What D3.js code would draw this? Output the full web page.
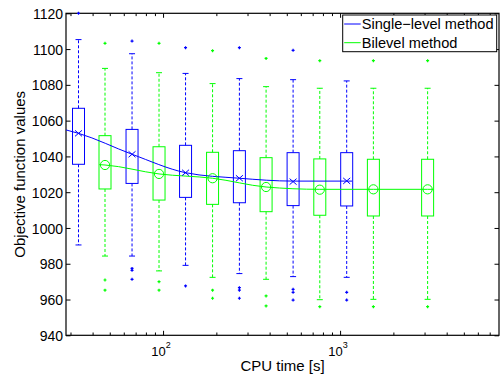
<!DOCTYPE html>
<html>
<head>
<meta charset="utf-8">
<script src="https://cdn.jsdelivr.net/npm/d3@7"></script>
<style>
body { margin: 0; background: #fff; }
text { font-family: "Liberation Sans", Arial, Helvetica, sans-serif; fill: #000; }
</style>
</head>
<body>
<div id="chart"></div>
<script>
// box positions on the CPU time axis [s]
const blueTime = [33.3, 66.8, 134, 269.9, 542.7, 1089.7];
const greenTime = [47, 94.9, 190.4, 381.9, 768, 1542, 3122];

// single-level method boxes
const blueQ1 = [1035.6, 1024.9, 1017.1, 1014.1, 1012.5, 1012.3];
const blueQ3 = [1066.9, 1055.1, 1046.2, 1043.2, 1042.1, 1042.1];
const blueMark = [1052.9, 1041.2, 1030.9, 1027.8, 1025.9, 1026.3];
const blueHi = [1105.3, 1097.4, 1086.4, 1083.5, 1082.9, 1082.2];
const blueLo = [990.5, 984.3, 979.1, 974.5, 972.8, 972.4];
const blueOut = [
  [1120],
  [1104.5, 977.4, 976.3, 971.3],
  [1100.8, 967.6],
  [1100.8, 966.6, 965.2, 960.7],
  [1099.3, 965.7, 964.0, 959.7],
  [964.0, 959.7]
];

// bilevel method boxes
const greenQ1 = [1021.8, 1015.6, 1013.2, 1009.1, 1007.1, 1006.7, 1006.7];
const greenQ3 = [1051.6, 1045.4, 1042.3, 1039.3, 1038.6, 1038.4, 1038.4];
const greenMark = [1035.2, 1030.2, 1027.8, 1022.9, 1021.4, 1021.6, 1021.6];
const greenHi = [1089.2, 1086.8, 1080.7, 1079.0, 1078.1, 1078.1, 1078.1];
const greenLo = [984.3, 976.0, 972.4, 971.3, 959.9, 960.1, 960.1];
const greenOut = [
  [1103.2, 970.9, 965.2],
  [1103.2, 970.0, 965.2],
  [1099.1, 965.2, 960.7],
  [1094.8, 962.0, 956.4],
  [1093.5, 956.0],
  [1093.5, 956.0],
  [1093.5, 956.0]
];

// trend curves
const blueLineT = [28.3, 33.3, 66.8, 134, 269.9, 542.7, 1089.7, 1169];
const blueLineV = [1054.8, 1052.9, 1041.2, 1030.9, 1027.8, 1026.2, 1026.2, 1026.2];
const greenLineT = [43.6, 47, 94.9, 190.4, 381.9, 768, 1542, 3122, 3365];
const greenLineV = [1035.4, 1035.2, 1030.2, 1027.8, 1022.9, 1021.6, 1021.6, 1021.6, 1021.6];

const yTicks = [940, 960, 980, 1000, 1020, 1040, 1060, 1080, 1100, 1120];
const xMajor = [100, 1000];
const xMinor = [30, 40, 50, 60, 70, 80, 90, 200, 300, 400, 500, 600, 700, 800, 900,
  2000, 3000, 4000, 5000, 6000, 7000];
const legendLabels = ["Single\u2212level method", "Bilevel method"];

const BLUE = "#0000ff", GREEN = "#00ff00";

const margin = {top: 13.3, right: 4, bottom: 45.7, left: 66},
    width = 503 - margin.left - margin.right,
    height = 381 - margin.top - margin.bottom;

const svg = d3.select("#chart").append("svg")
  .attr("width", 503)
  .attr("height", 381)
  .append("g")
  .attr("transform", "translate(" + margin.left + "," + margin.top + ")");

const x = d3.scaleLog().domain([28.3, 7900]).range([0, width]);
const y = d3.scaleLinear().domain([940, 1120]).range([height, 0]);

svg.append("clipPath").attr("id", "clip")
  .append("rect").attr("width", width).attr("height", height);

// axes, ticks pointing inward
const gY = svg.append("g").call(d3.axisLeft(y).tickValues(yTicks).tickSize(-4.5).tickPadding(3)
  .tickFormat(d3.format("d")));
gY.selectAll("text").attr("font-size", 14).attr("dy", "0.36em");
svg.append("g").attr("transform", "translate(" + width + ",0)")
  .call(d3.axisRight(y).tickValues(yTicks).tickSize(-4.5).tickFormat(""));

const gX = svg.append("g").attr("transform", "translate(0," + height + ")");
gX.append("g").call(d3.axisBottom(x).tickValues(xMinor).tickSize(-2.8).tickFormat(""));
gX.append("g").call(d3.axisBottom(x).tickValues(xMajor).tickSize(-4.5).tickFormat(""));
svg.append("g").call(d3.axisTop(x).tickValues(xMinor).tickSize(-2.8).tickFormat(""));
svg.append("g").call(d3.axisTop(x).tickValues(xMajor).tickSize(-4.5).tickFormat(""));
svg.selectAll(".domain").remove();
svg.selectAll(".tick line").attr("stroke", "#000");

xMajor.forEach(function (v) {
  const t = svg.append("text")
    .attr("x", x(v) - 2)
    .attr("y", height + 21)
    .attr("text-anchor", "middle")
    .attr("font-size", 13);
  t.append("tspan").text("10");
  t.append("tspan").attr("dy", -8).attr("font-size", 9).text(Math.round(Math.log10(v)));
});

// frame
svg.append("rect")
  .attr("width", width).attr("height", height)
  .attr("fill", "none").attr("stroke", "#000").attr("stroke-width", 1.2);

// axis labels
svg.append("text")
  .attr("text-anchor", "middle")
  .attr("x", width / 2)
  .attr("y", height + 35.5)
  .attr("font-size", 15)
  .text("CPU time [s]");
svg.append("text")
  .attr("text-anchor", "middle")
  .attr("transform", "rotate(-90)")
  .attr("x", -height / 2)
  .attr("y", -41)
  .attr("font-size", 15)
  .text("Objective function values");

function drawBoxes(times, q1, q3, hi, lo, outs, color) {
  const g = svg.append("g");
  times.forEach(function (t, i) {
    const cx = x(t);
    // whiskers
    g.append("line").attr("x1", cx).attr("x2", cx).attr("y1", y(q3[i])).attr("y2", y(hi[i]))
      .attr("stroke", color).attr("stroke-dasharray", "3,2");
    g.append("line").attr("x1", cx).attr("x2", cx).attr("y1", y(q1[i])).attr("y2", y(lo[i]))
      .attr("stroke", color).attr("stroke-dasharray", "3,2");
    [hi[i], lo[i]].forEach(function (v) {
      g.append("line").attr("x1", cx - 3).attr("x2", cx + 3).attr("y1", y(v)).attr("y2", y(v))
        .attr("stroke", color);
    });
    // box
    g.append("rect")
      .attr("x", cx - 6).attr("width", 12)
      .attr("y", y(q3[i])).attr("height", y(q1[i]) - y(q3[i]))
      .attr("fill", "none").attr("stroke", color);
    // outliers (+)
    outs[i].forEach(function (v) {
      g.append("path")
        .attr("d", "M" + (cx - 1.5) + "," + y(v) + "h3M" + cx + "," + (y(v) - 1.5) + "v3")
        .attr("stroke", color).attr("stroke-width", 1.2);
    });
  });
}

drawBoxes(blueTime, blueQ1, blueQ3, blueHi, blueLo, blueOut, BLUE);
drawBoxes(greenTime, greenQ1, greenQ3, greenHi, greenLo, greenOut, GREEN);

// trend curves
const line = d3.line()
  .x(function (d) { return x(d[0]); })
  .y(function (d) { return y(d[1]); })
  .curve(d3.curveMonotoneX);

svg.append("path")
  .datum(d3.zip(blueLineT, blueLineV))
  .attr("clip-path", "url(#clip)")
  .attr("d", line).attr("fill", "none").attr("stroke", BLUE);
svg.append("path")
  .datum(d3.zip(greenLineT, greenLineV))
  .attr("d", line).attr("fill", "none").attr("stroke", GREEN);

// markers: x for single-level, o for bilevel
svg.append("g").selectAll("path")
  .data(d3.zip(blueTime, blueMark))
  .enter()
  .append("path")
  .attr("d", function (d) {
    const px = x(d[0]), py = y(d[1]);
    return "M" + (px - 3.5) + "," + (py - 3) + "L" + (px + 3.5) + "," + (py + 3) +
      "M" + (px - 3.5) + "," + (py + 3) + "L" + (px + 3.5) + "," + (py - 3);
  })
  .attr("stroke", BLUE).attr("fill", "none");

svg.append("g").selectAll("circle")
  .data(d3.zip(greenTime, greenMark))
  .enter()
  .append("circle")
  .attr("cx", function (d) { return x(d[0]); })
  .attr("cy", function (d) { return y(d[1]); })
  .attr("r", 4.6)
  .attr("fill", "none").attr("stroke", GREEN);

// legend
const lg = svg.append("g").attr("transform", "translate(" + (width - 156.3) + ",1.7)");
lg.append("rect").attr("width", 154).attr("height", 36.7)
  .attr("fill", "#fff").attr("stroke", "#000");
legendLabels.forEach(function (label, i) {
  const ly = 9 + i * 18.7;
  lg.append("line").attr("x1", 1.5).attr("x2", 18).attr("y1", ly).attr("y2", ly)
    .attr("stroke", i === 0 ? BLUE : GREEN);
  lg.append("text").attr("x", 19).attr("y", ly + 5.2).attr("font-size", 14.6).text(label);
});
</script>
</body>
</html>
